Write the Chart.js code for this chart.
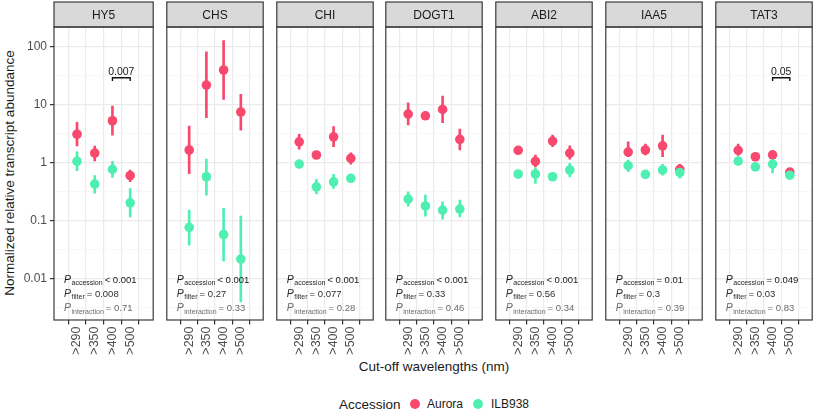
<!DOCTYPE html>
<html>
<head>
<meta charset="utf-8">
<script src="https://cdn.jsdelivr.net/npm/chart.js@4/dist/chart.umd.min.js"></script>
<style>
    body { margin: 0; background: #fff; font-family: "Liberation Sans", Arial, sans-serif; }
    #figure { position: relative; width: 817px; height: 411px; overflow: hidden; }
    #figure canvas { position: absolute; top: 0; }
    .label { position: absolute; white-space: nowrap; color: #1a1a1a; }
    #y-title { left: 9px; top: 173px; font-size: 13.5px; transform: translate(-50%, -50%) rotate(-90deg); }
    #x-title { left: 434px; top: 366px; font-size: 13.5px; transform: translate(-50%, -50%); }
    .legend-text { top: 404px; transform: translateY(-50%); font-size: 12px; }
    .dot { position: absolute; top: 399px; width: 10px; height: 10px; border-radius: 50%; }
</style>
</head>
<body>
<div id="figure">
    <div class="label" id="y-title">Normalized relative transcript abundance</div>
    <div class="label" id="x-title">Cut-off wavelengths (nm)</div>
    <div class="label legend-text" style="left:339px;font-size:13.5px">Accession</div>
    <div class="dot" style="left:410px;background:#F8486E"></div>
    <div class="label legend-text" style="left:427px">Aurora</div>
    <div class="dot" style="left:473px;background:#4FEFB2"></div>
    <div class="label legend-text" style="left:491px">ILB938</div>
</div>
<script>
const genes = ["HY5", "CHS", "CHI", "DOGT1", "ABI2", "IAA5", "TAT3"];
const cutoffs = [">290", ">350", ">400", ">500"];

// Aurora: mean and error bar ends, one row per gene
const auroraMean = [
    [3.1, 1.47, 5.3, 0.60],
    [1.66, 21.8, 39.7, 7.5],
    [2.3, 1.36, 2.8, 1.19],
    [6.9, 6.45, 8.3, 2.53],
    [1.64, 1.06, 2.37, 1.47],
    [1.53, 1.66, 1.96, 0.77],
    [1.64, 1.27, 1.37, 0.69]
];
const auroraLow = [
    [1.96, 1.08, 3.0, 0.47],
    [0.65, 5.97, 12.4, 3.66],
    [1.72, 1.22, 1.89, 0.95],
    [4.47, 5.7, 4.9, 1.66],
    [1.5, 0.85, 1.89, 1.15],
    [1.27, 1.36, 1.27, 0.61],
    [1.34, 1.15, 1.25, 0.62]
];
const auroraHigh = [
    [4.97, 1.94, 9.5, 0.75],
    [4.3, 82, 127, 15.1],
    [3.1, 1.52, 4.2, 1.49],
    [10.8, 7.2, 14.1, 3.8],
    [1.78, 1.36, 3.0, 1.96],
    [2.3, 2.1, 3.0, 0.94],
    [2.1, 1.4, 1.5, 0.77]
];

// ILB938
const ilbMean = [
    [1.06, 0.43, 0.77, 0.204],
    [0.077, 0.574, 0.058, 0.0219],
    [0.95, 0.385, 0.47, 0.54],
    [0.237, 0.18, 0.153, 0.159],
    [0.64, 0.64, 0.574, 0.75],
    [0.89, 0.63, 0.75, 0.68],
    [1.07, 0.85, 0.95, 0.61]
];
const ilbLow = [
    [0.73, 0.30, 0.56, 0.117],
    [0.038, 0.277, 0.0204, 0.004],
    [0.86, 0.29, 0.36, 0.47],
    [0.179, 0.12, 0.107, 0.117],
    [0.55, 0.44, 0.52, 0.57],
    [0.70, 0.57, 0.61, 0.54],
    [0.95, 0.76, 0.67, 0.55]
];
const ilbHigh = [
    [1.55, 0.60, 1.06, 0.36],
    [0.153, 1.16, 0.164, 0.12],
    [1.04, 0.52, 0.63, 0.62],
    [0.316, 0.277, 0.213, 0.227],
    [0.72, 0.82, 0.63, 0.98],
    [1.11, 0.70, 0.94, 0.85],
    [1.2, 0.95, 1.19, 0.68]
];

const pAccession = ["< 0.001", "< 0.001", "< 0.001", "< 0.001", "< 0.001", "= 0.01", "= 0.049"];
const pFilter = ["= 0.008", "= 0.27", "= 0.077", "= 0.33", "= 0.56", "= 0.3", "= 0.03"];
const pInteraction = ["= 0.71", "= 0.33", "= 0.28", "= 0.46", "= 0.34", "= 0.39", "= 0.83"];

// significance bracket between >400 and >500
const bracketText = ["0.007", "", "", "", "", "", "0.05"];
const bracketTop = [29.2, null, null, null, null, null, 29.2];
const bracketTip = [25.7, null, null, null, null, null, 25.7];

const majorTicks = [0.01, 0.1, 1, 10, 100];
const majorLabels = ["0.01", "0.1", "1", "10", "100"];
const minorTicks = [0.00316, 0.0316, 0.316, 3.16, 31.6];

const auroraColor = "#F8486E";
const ilbColor = "#4FEFB2";
const panelLefts = [54, 164, 274, 383, 493, 603, 713];
const panelWidth = 102;
const fontFamily = "'Liberation Sans', Arial, sans-serif";

Chart.defaults.font.family = fontFamily;

function drawP(ctx, x, y, sub, rest, color) {
    ctx.fillStyle = color;
    ctx.textAlign = "left";
    ctx.textBaseline = "alphabetic";
    ctx.font = `italic 10.5px ${fontFamily}`;
    ctx.fillText("P", x, y);
    x += ctx.measureText("P").width + 0.5;
    ctx.font = `7px ${fontFamily}`;
    ctx.fillText(sub, x, y + 2.5);
    x += ctx.measureText(sub).width + 2;
    ctx.font = `9.5px ${fontFamily}`;
    ctx.fillText(rest, x, y);
}

const panelPlugin = {
    id: "panel",
    afterDraw(chart, args, opts) {
        const ctx = chart.ctx;
        const area = chart.chartArea;
        const i = opts.index;
        ctx.save();

        // strip
        ctx.fillStyle = "#d9d9d9";
        ctx.fillRect(area.left, 2, area.right - area.left, area.top - 2);
        ctx.strokeStyle = "#3a3a3a";
        ctx.lineWidth = 1.2;
        ctx.strokeRect(area.left, 2, area.right - area.left, area.top - 2);
        ctx.fillStyle = "#1a1a1a";
        ctx.font = `12px ${fontFamily}`;
        ctx.textAlign = "center";
        ctx.textBaseline = "middle";
        ctx.fillText(genes[i], (area.left + area.right) / 2, (area.top + 2) / 2 + 1);

        // panel border
        ctx.strokeRect(area.left, area.top, area.right - area.left, area.bottom - area.top);

        // p values
        const px = area.left + 10;
        drawP(ctx, px, area.bottom - 37.5, "accession", pAccession[i], "#1a1a1a");
        drawP(ctx, px, area.bottom - 23.3, "filter", pFilter[i], "#2e2e2e");
        drawP(ctx, px, area.bottom - 9, "interaction", pInteraction[i], "#6a6a6a");

        // bracket label
        if (bracketText[i]) {
            const xs = chart.scales.x;
            const ys = chart.scales.y;
            ctx.fillStyle = "#1a1a1a";
            ctx.font = `10.5px ${fontFamily}`;
            ctx.textAlign = "center";
            ctx.textBaseline = "alphabetic";
            ctx.fillText(bracketText[i], xs.getPixelForValue(2.5), ys.getPixelForValue(bracketTop[i]) - 3);
        }
        ctx.restore();
    }
};

function makePanel(i) {
    const first = i === 0;
    const $figure = document.querySelector("#figure");
    const $canvas = document.createElement("canvas");
    const left = first ? 0 : panelLefts[i] - 2;
    const width = first ? panelLefts[0] + panelWidth + 2 : panelWidth + 4;
    $canvas.width = width;
    $canvas.height = 362;
    $canvas.style.left = left + "px";
    $canvas.style.width = width + "px";
    $canvas.style.height = "362px";
    $figure.appendChild($canvas);

    const datasets = [
        {
            type: "scatter",
            data: ilbMean[i].map((v, j) => ({x: j, y: v})),
            backgroundColor: ilbColor,
            pointRadius: 4.8,
            pointBorderWidth: 0,
            order: 0
        },
        {
            type: "scatter",
            data: auroraMean[i].map((v, j) => ({x: j, y: v})),
            backgroundColor: auroraColor,
            pointRadius: 4.8,
            pointBorderWidth: 0,
            order: 1
        },
        {
            type: "bar",
            data: ilbLow[i].map((v, j) => ({x: j, y: [v, ilbHigh[i][j]]})),
            backgroundColor: ilbColor,
            barThickness: 2,
            grouped: false,
            order: 2
        },
        {
            type: "bar",
            data: auroraLow[i].map((v, j) => ({x: j, y: [v, auroraHigh[i][j]]})),
            backgroundColor: auroraColor,
            barThickness: 2,
            grouped: false,
            order: 3
        }
    ];

    if (bracketText[i]) {
        datasets.push({
            type: "line",
            data: [
                {x: 2, y: bracketTip[i]},
                {x: 2, y: bracketTop[i]},
                {x: 3, y: bracketTop[i]},
                {x: 3, y: bracketTip[i]}
            ],
            borderColor: "#111",
            borderWidth: 1.4,
            pointRadius: 0,
            fill: false,
            order: 4
        });
    }

    new Chart($canvas, {
        type: "scatter",
        data: {datasets},
        options: {
            responsive: false,
            animation: false,
            events: [],
            layout: {padding: {top: 27, left: first ? 0 : 2, right: 2, bottom: 0}},
            plugins: {
                legend: {display: false},
                tooltip: {enabled: false},
                panel: {index: i}
            },
            scales: {
                x: {
                    type: "linear",
                    min: -0.6,
                    max: 3.6,
                    afterBuildTicks: s => { s.ticks = cutoffs.map((c, j) => ({value: j})); },
                    afterFit: s => { s.height = 42; },
                    ticks: {
                        callback: v => cutoffs[v],
                        minRotation: 90,
                        maxRotation: 90,
                        autoSkip: false,
                        padding: 2,
                        color: "#4d4d4d",
                        font: {size: 12.5}
                    },
                    grid: {color: "#ebebeb", lineWidth: 1.2, tickLength: 4.5, tickColor: "#333"},
                    border: {display: false}
                },
                y: {
                    type: "logarithmic",
                    min: Math.pow(10, -2.71),
                    max: Math.pow(10, 2.34),
                    afterBuildTicks: s => {
                        s.ticks = minorTicks.concat(majorTicks).sort((a, b) => a - b).map(v => ({value: v}));
                    },
                    afterFit: s => { s.width = first ? 54 : 0; },
                    ticks: {
                        display: first,
                        callback: v => {
                            const k = majorTicks.indexOf(v);
                            return k >= 0 ? majorLabels[k] : "";
                        },
                        padding: 3,
                        color: "#4d4d4d",
                        font: {size: 12}
                    },
                    grid: {
                        color: c => majorTicks.includes(c.tick.value) ? "#ebebeb" : "#f5f5f5",
                        lineWidth: c => majorTicks.includes(c.tick.value) ? 1.2 : 0.7,
                        drawTicks: first,
                        tickLength: 4,
                        tickColor: c => majorTicks.includes(c.tick.value) ? "#333" : "rgba(0,0,0,0)"
                    },
                    border: {display: false}
                }
            }
        },
        plugins: [panelPlugin]
    });
}

genes.forEach((g, i) => makePanel(i));
</script>
</body>
</html>
